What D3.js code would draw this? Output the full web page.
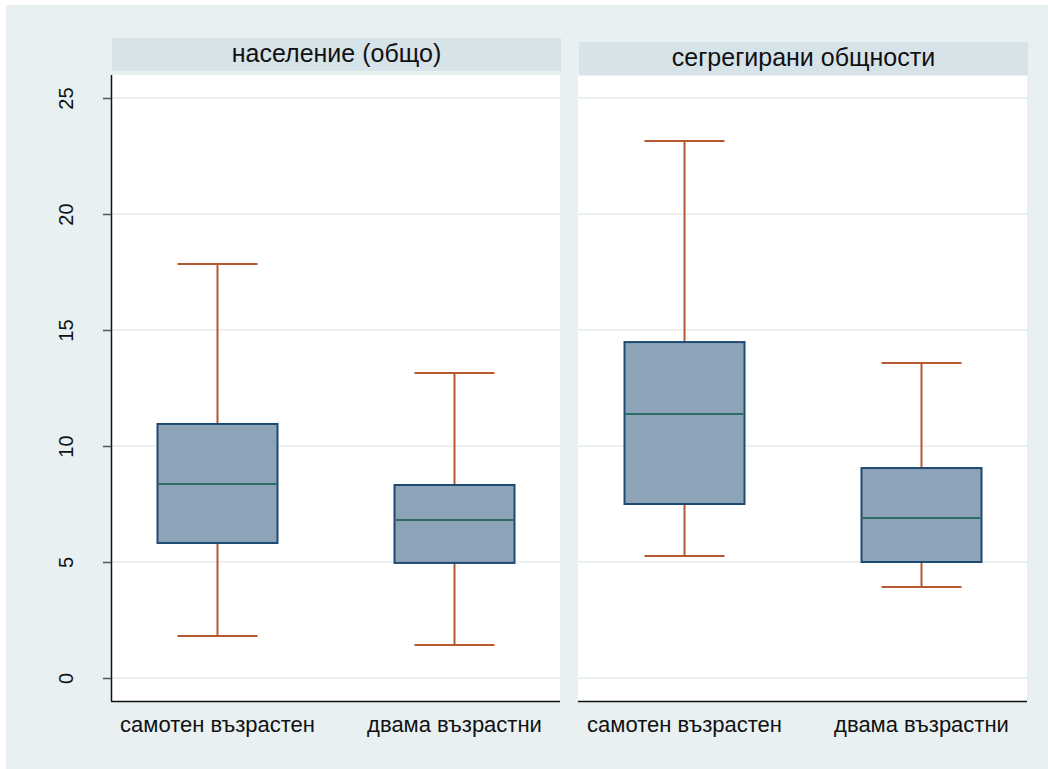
<!DOCTYPE html>
<html>
<head>
<meta charset="utf-8">
<script src="https://cdn.jsdelivr.net/npm/d3@7"></script>
<style>
  html, body { margin: 0; padding: 0; background: #ffffff; }
  svg { display: block; font-family: "Liberation Sans", Arial, sans-serif; }
</style>
</head>
<body>
<svg id="chart" width="1048" height="769"></svg>
<script>
// Panel titles and category labels
const panels = ["население (общо)", "сегрегирани общности"];
const categories = ["самотен възрастен", "двама възрастни"];
const yTicks = [0, 5, 10, 15, 20, 25];

// Box statistics per panel: [lower whisker, Q1, median, Q3, upper whisker]
const lowerWhisker = [[1.81, 1.42], [5.26, 3.92]];
const q1 = [[5.82, 4.96], [7.50, 5.00]];
const median = [[8.36, 6.81], [11.38, 6.90]];
const q3 = [[10.95, 8.32], [14.48, 9.05]];
const upperWhisker = [[17.85, 13.15], [23.15, 13.58]];

const svg = d3.select("#chart");
const W = 1048, H = 769;

// outer background
svg.append("rect").attr("x", 6).attr("y", 5).attr("width", W - 6).attr("height", H - 5)
  .attr("fill", "#e8f0f2");

const y = d3.scaleLinear().domain([0, 25]).range([678, 98]);

const panelGeom = [
  { x0: 111, x1: 560, top: 75, headTop: 38, headBot: 71, yAxis: true },
  { x0: 578, x1: 1027, top: 76, headTop: 42, headBot: 75, yAxis: false }
];
const bottom = 701;

panelGeom.forEach((g, p) => {
  const gp = svg.append("g");
  // header strip
  gp.append("rect").attr("x", g.x0 + 1).attr("y", g.headTop)
    .attr("width", g.x1 - g.x0).attr("height", g.headBot - g.headTop)
    .attr("fill", "#d6e3e9");
  gp.append("text").attr("x", (g.x0 + g.x1) / 2 + 1).attr("y", (g.headTop + g.headBot) / 2 + 7)
    .attr("text-anchor", "middle").attr("font-size", 25).attr("fill", "#111")
    .text(panels[p]);

  // plot area
  gp.append("rect").attr("x", g.x0).attr("y", g.top)
    .attr("width", g.x1 - g.x0).attr("height", bottom - g.top).attr("fill", "#ffffff");

  // gridlines
  gp.selectAll("line.grid").data(yTicks).join("line").attr("class", "grid")
    .attr("x1", g.x0).attr("x2", g.x1)
    .attr("y1", d => y(d)).attr("y2", d => y(d))
    .attr("stroke", "#eaf1f3").attr("stroke-width", 2);

  // category positions within the panel
  const x = d3.scaleOrdinal().domain(categories).range([0.236, 0.763]);
  const cx = d => g.x0 + (g.x1 - g.x0) * x(d);
  const boxW = 120, capW = 80;

  categories.forEach((c, i) => {
    const xc = Math.round(cx(c)) + 0.5;
    // whiskers
    gp.append("line").attr("x1", xc).attr("x2", xc)
      .attr("y1", y(upperWhisker[p][i])).attr("y2", y(q3[p][i]))
      .attr("stroke", "#b5582f").attr("stroke-width", 2);
    gp.append("line").attr("x1", xc).attr("x2", xc)
      .attr("y1", y(q1[p][i])).attr("y2", y(lowerWhisker[p][i]))
      .attr("stroke", "#b5582f").attr("stroke-width", 2);
    gp.append("line").attr("x1", xc - capW / 2).attr("x2", xc + capW / 2)
      .attr("y1", y(upperWhisker[p][i])).attr("y2", y(upperWhisker[p][i]))
      .attr("stroke", "#b5582f").attr("stroke-width", 2);
    gp.append("line").attr("x1", xc - capW / 2).attr("x2", xc + capW / 2)
      .attr("y1", y(lowerWhisker[p][i])).attr("y2", y(lowerWhisker[p][i]))
      .attr("stroke", "#b5582f").attr("stroke-width", 2);
    // box
    gp.append("rect").attr("x", xc - boxW / 2).attr("y", y(q3[p][i]))
      .attr("width", boxW).attr("height", y(q1[p][i]) - y(q3[p][i]))
      .attr("fill", "#8ca3b8").attr("stroke", "#1e4a72").attr("stroke-width", 2);
    // median
    gp.append("line").attr("x1", xc - boxW / 2 + 1).attr("x2", xc + boxW / 2 - 1)
      .attr("y1", y(median[p][i])).attr("y2", y(median[p][i]))
      .attr("stroke", "#2e6b62").attr("stroke-width", 2);
    // category label
    gp.append("text").attr("x", xc).attr("y", 732)
      .attr("text-anchor", "middle").attr("font-size", 22).attr("fill", "#111")
      .text(c);
  });

  // bottom axis line
  gp.append("line").attr("x1", g.x0).attr("x2", g.x1).attr("y1", bottom + 0.5).attr("y2", bottom + 0.5)
    .attr("stroke", "#111").attr("stroke-width", 1.5);

  if (g.yAxis) {
    const ax = gp.append("g").attr("transform", `translate(${g.x0},0)`)
      .call(d3.axisLeft(y).tickValues(yTicks).tickSize(8).tickPadding(0).tickFormat(d3.format("d")));
    ax.select(".domain").attr("d", `M0.5,${g.top}V${bottom}`).attr("stroke", "#111").attr("stroke-width", 1.5);
    ax.selectAll(".tick line").attr("stroke", "#555").attr("stroke-width", 1.5);
    ax.selectAll(".tick text")
      .attr("font-size", 20).attr("fill", "#111").attr("font-family", "Liberation Sans, Arial, sans-serif")
      .attr("text-anchor", "middle").attr("dy", null)
      .attr("transform", "translate(-45,0) rotate(-90)")
      .attr("x", 0).attr("y", 7);
  }
});
</script>
</body>
</html>
